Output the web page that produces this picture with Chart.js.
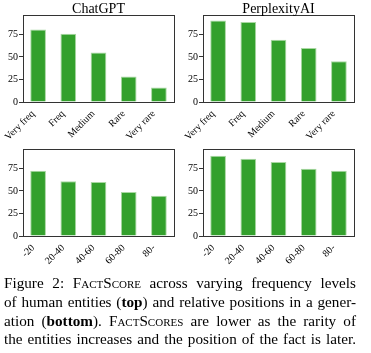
<!DOCTYPE html>
<html>
<head>
<meta charset="utf-8">
<script src="https://cdn.jsdelivr.net/npm/chart.js@4.4.0/dist/chart.umd.min.js"></script>
<style>
  body { margin: 0; background: #fff; width: 371px; height: 353px; overflow: hidden; position: relative; }
  .plot { position: absolute; }
  #caption {
    position: absolute; left: 4px; top: 274px; width: 352px;
    font-family: 'Liberation Serif', serif; font-size: 15.2px; line-height: 18.8px; color: #000;
  }
  #caption div { text-align: justify; text-align-last: justify; white-space: nowrap; }
  .sc { font-variant: small-caps; }
</style>
</head>
<body>
<div class="plot" style="left:0;top:0;width:180px;height:140px"><canvas id="chatTop"></canvas></div>
<div class="plot" style="left:180px;top:0;width:180px;height:140px"><canvas id="pplxTop"></canvas></div>
<div class="plot" style="left:0;top:135px;width:180px;height:140px"><canvas id="chatBottom"></canvas></div>
<div class="plot" style="left:180px;top:135px;width:180px;height:140px"><canvas id="pplxBottom"></canvas></div>

<div id="caption">
  <div>Figure 2: F<span class="sc">act</span>S<span class="sc">core</span> across varying frequency levels</div>
  <div>of human entities (<b>top</b>) and relative positions in a gener-</div>
  <div>ation (<b>bottom</b>). F<span class="sc">act</span>S<span class="sc">core</span><span class="sc">s</span> are lower as the rarity of</div>
  <div>the entities increases and the position of the fact is later.</div>
</div>

<script>
// categories
const freqLevels = ['Very freq', 'Freq', 'Medium', 'Rare', 'Very rare'];
const positions = ['-20', '20-40', '40-60', '60-80', '80-'];

// FActScore values
const chatgptFreq = [80.5, 75.7, 55, 28.3, 16];
const perplexityFreq = [90.5, 88.7, 69, 59.8, 45.3];
const chatgptPos = [72.4, 60.6, 59.9, 48.8, 44.7];
const perplexityPos = [89, 85.7, 82, 74.6, 72.4];

const yTicks = [0, 25, 50, 75];
const yMax = 96.5;

// draws the full box round the plot area, and the title centred over it
const boxPlugin = {
    id: 'box',
    afterDraw(chart, args, opts) {
        const a = chart.chartArea;
        const ctx = chart.ctx;
        ctx.save();
        ctx.strokeStyle = '#333';
        ctx.lineWidth = 1;
        ctx.strokeRect(Math.round(a.left) + 0.5, Math.round(a.top) + 0.5,
            Math.round(a.right - a.left), Math.round(a.bottom - a.top));
        if (opts.title) {
            ctx.fillStyle = '#000';
            ctx.font = '14px "Liberation Serif"';
            ctx.textAlign = 'center';
            ctx.textBaseline = 'alphabetic';
            ctx.fillText(opts.title, (a.left + a.right) / 2, a.top - 2);
        }
        ctx.restore();
    }
};

const makeChart = (id, labels, values, title) => {
    const ctx = document.getElementById(id).getContext('2d');
    new Chart(ctx, {
        type: 'bar',
        data: {
            labels: labels,
            datasets: [{
                data: values,
                backgroundColor: '#33a02c',
                borderColor: '#a9d8a2',
                borderWidth: 1,
                borderSkipped: 'bottom',
                barPercentage: 0.52,
                categoryPercentage: 1
            }]
        },
        options: {
            responsive: true,
            maintainAspectRatio: false,
            animation: false,
            layout: { padding: { left: 0, right: 6, top: title ? 15 : 14, bottom: 0 } },
            plugins: {
                legend: { display: false },
                tooltip: { enabled: false },
                box: { title: title }
            },
            scales: {
                x: {
                    grid: { display: false, drawOnChartArea: false, tickLength: 3 },
                    border: { display: false },
                    ticks: {
                        color: '#000',
                        maxRotation: 45,
                        minRotation: 45,
                        padding: 3,
                        labelOffset: -5,
                        font: { family: 'Liberation Serif', size: 10 }
                    },
                    afterFit: (scale) => { scale.height = title ? 38 : 39; }
                },
                y: {
                    min: 0,
                    max: yMax,
                    afterBuildTicks: (scale) => { scale.ticks = yTicks.map(v => ({ value: v })); },
                    grid: { drawOnChartArea: false, tickLength: 4, color: '#333' },
                    border: { display: false },
                    ticks: {
                        color: '#000',
                        padding: 1,
                        font: { family: 'Liberation Serif', size: 10 }
                    },
                    afterFit: (scale) => { scale.width = 23; }
                }
            }
        },
        plugins: [boxPlugin]
    });
};

makeChart('chatTop', freqLevels, chatgptFreq, 'ChatGPT');
makeChart('pplxTop', freqLevels, perplexityFreq, 'PerplexityAI');
makeChart('chatBottom', positions, chatgptPos, '');
makeChart('pplxBottom', positions, perplexityPos, '');
</script>
</body>
</html>
